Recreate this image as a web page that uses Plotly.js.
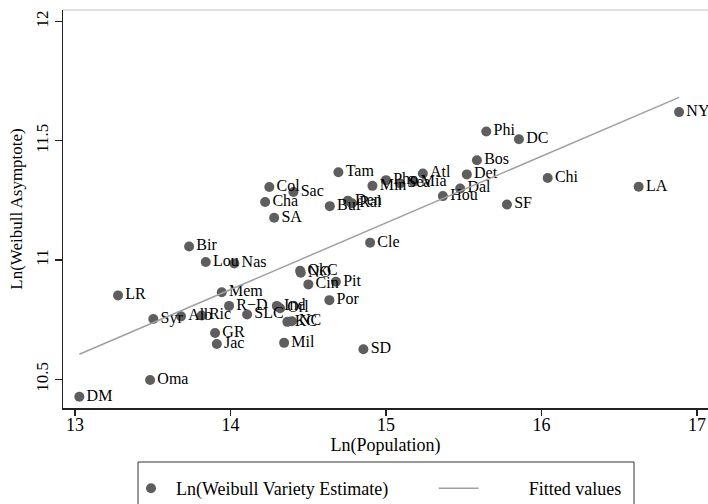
<!DOCTYPE html>
<html>
<head>
<meta charset="utf-8">
<script src="https://cdn.plot.ly/plotly-3.0.1.min.js"></script>
<style>html,body{margin:0;padding:0;background:#fff;}#chart{width:708px;height:504px;}</style>
</head>
<body>
<div id="chart"></div>
<script>
// City labels
var cities = ["NY","Phi","DC","Bos","Det","Chi","LA","Dal","SF","Hou","Atl","Mia","Sea","Pho","Min","Tam","Col","Sac","Cha","SA","Buf","Den","Ral","Cle","OkC","NO","Cin","Pit","Por","SD","Mil","Ind","Orl","KC","NC","Bir","Lou","Nas","LR","Mem","R\u2212D","Syr","Alb","Ric","SLC","GR","Jac","Oma","DM"];
// Ln(Population)
var lnPop = [16.885,15.645,15.855,15.585,15.52,16.04,16.625,15.477,15.778,15.366,15.237,15.177,15.091,15.0,14.913,14.694,14.25,14.405,14.223,14.281,14.639,14.755,14.781,14.898,14.448,14.452,14.501,14.678,14.636,14.855,14.345,14.298,14.319,14.366,14.394,13.734,13.841,14.025,13.277,13.944,13.991,13.504,13.682,13.815,14.107,13.901,13.912,13.483,13.028];
// Ln(Weibull Variety Estimate)
var lnWeibull = [11.620,11.539,11.506,11.418,11.359,11.344,11.307,11.300,11.233,11.268,11.363,11.328,11.321,11.335,11.311,11.368,11.306,11.285,11.243,11.177,11.226,11.249,11.238,11.073,10.955,10.947,10.898,10.909,10.832,10.626,10.653,10.808,10.798,10.741,10.744,11.057,10.992,10.986,10.852,10.865,10.808,10.753,10.764,10.768,10.772,10.694,10.648,10.497,10.427];
// Fitted values line (endpoints)
var fitX = [13.028, 16.885];
var fitY = [10.605, 11.682];
var xTicks = [13,14,15,16,17];
var yTicks = [10.5,11,11.5,12];
var seriesNames = ["Ln(Weibull Variety Estimate)", "Fitted values"];

var serif = "Liberation Serif, Times New Roman, serif";
function nb(n){ return new Array(n + 1).join("\u00a0"); }

var traces = [
  {
    x: lnPop, y: lnWeibull, text: cities,
    type: "scatter", mode: "markers+text",
    name: seriesNames[0] + nb(9),
    marker: {size: 10, color: "#5e5e5e"},
    textposition: "middle right",
    textfont: {family: serif, size: 16, color: "#000"},
    cliponaxis: false,
    hoverinfo: "skip"
  },
  {
    x: fitX, y: fitY,
    type: "scatter", mode: "lines",
    name: nb(10) + seriesNames[1],
    line: {color: "#a0a0a0", width: 1.5},
    hoverinfo: "skip"
  }
];

var layout = {
  width: 708, height: 504,
  margin: {l: 63, r: 0, t: 10, b: 96, autoexpand: false},
  paper_bgcolor: "#fff", plot_bgcolor: "#fff",
  font: {family: serif, size: 17, color: "#000"},
  showlegend: true,
  xaxis: {
    range: [12.923, 17.071],
    tickvals: xTicks, ticktext: xTicks.map(String),
    showgrid: false, zeroline: false,
    showline: true, linecolor: "#222", linewidth: 1.5,
    ticks: "outside", ticklen: 6, tickwidth: 1.2, tickcolor: "#222",
    ticklabelstandoff: -6,
    tickfont: {family: serif, size: 18},
    title: {text: "Ln(Population)", font: {family: serif, size: 18}, standoff: 4}
  },
  yaxis: {
    range: [10.380, 12.048],
    tickvals: yTicks, ticktext: ["10.5","11","11.5","12"],
    tickangle: -90,
    showgrid: false, zeroline: false,
    showline: true, linecolor: "#222", linewidth: 1.5,
    ticks: "outside", ticklen: 7, tickwidth: 1.2, tickcolor: "#222",
    tickfont: {family: serif, size: 17},
    title: {text: "Ln(Weibull Asymptote)", font: {family: serif, size: 17}, standoff: 6}
  },
  shapes: [
    {type: "line", xref: "paper", yref: "paper", x0: 0, x1: 1, y0: 1, y1: 1,
     line: {color: "#c0c0c0", width: 1}},
    {type: "rect", xref: "paper", yref: "paper",
     x0: (138 - 63) / 645, x1: (634 - 63) / 645,
     y0: (408 - 462) / 398, y1: (408 - 520) / 398,
     line: {color: "#333", width: 1}, fillcolor: "rgba(0,0,0,0)"}
  ],
  legend: {
    orientation: "h",
    x: (126 - 63) / 645, xanchor: "left",
    y: (408 - 470) / 398, yanchor: "top",
    borderwidth: 0, bgcolor: "rgba(0,0,0,0)",
    font: {family: serif, size: 18},
    itemwidth: 40
  }
};

Plotly.newPlot("chart", traces, layout, {staticPlot: true, displayModeBar: false});
</script>
</body>
</html>
